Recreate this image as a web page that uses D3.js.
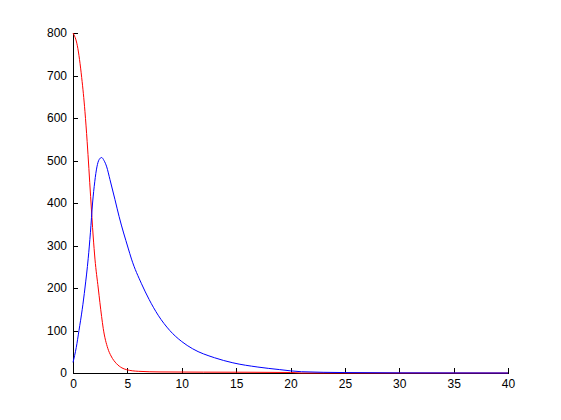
<!DOCTYPE html>
<html>
<head>
<meta charset="utf-8">
<script src="https://cdn.jsdelivr.net/npm/d3@7"></script>
<style>
  body { margin: 0; background: #fff; }
  .axis text { font-family: "Liberation Sans", Arial, sans-serif; font-size: 12px; fill: #000; }
  .axis path, .axis line { stroke: #000; shape-rendering: crispEdges; }
</style>
</head>
<body>
<svg class="canvas"></svg>
<script>
// red series
var redT = [0, 0.4, 0.8, 1.1, 1.3, 1.62, 1.86, 2.02, 2.32, 2.63, 2.78, 3.2, 3.5, 4.0, 4.5, 4.9, 6, 8, 12, 16, 20, 21, 40];
var redV = [800, 770, 695, 615, 545, 415, 320, 268, 200, 133, 105, 58, 40, 22, 12, 8, 4, 2.5, 2, 1.8, 1.2, 0, 0];

// blue series
var blueT = [0, 0.3, 0.55, 0.85, 1.1, 1.4, 1.6, 1.8, 2.0, 2.2, 2.4, 2.63, 2.85, 3.1, 3.4, 3.86, 4.24, 5.07, 5.38, 6.3, 7.0, 7.83, 8.9, 10, 11, 13, 14.7, 17, 19, 21, 25, 30, 40];
var blueV = [25, 60, 100, 150, 200, 270, 330, 400, 450, 485, 502, 507, 500, 485, 455, 408, 368, 294, 268, 210, 173, 136, 100, 74, 57, 36, 24, 14, 8, 3, 1, 0.3, 0];

var xTicks = [0, 5, 10, 15, 20, 25, 30, 35, 40];
var yTicks = [0, 100, 200, 300, 400, 500, 600, 700, 800];

function display() {
  var width = 435;
  var height = 340;
  var left = 73;
  var top = 33;

  var x = d3.scaleLinear().domain([0, 40]).range([0, width]);
  var y = d3.scaleLinear().domain([0, 800]).range([height, 0]);

  var canvas = d3.select(".canvas")
    .attr("width", 561)
    .attr("height", 420)
    .append("g")
    .attr("transform", "translate(" + left + "," + top + ")");

  canvas.append("g")
    .attr("class", "y axis")
    .call(d3.axisLeft(y).tickValues(yTicks).tickSizeInner(-5).tickSizeOuter(0).tickPadding(6));

  canvas.append("g")
    .attr("class", "x axis")
    .attr("transform", "translate(0," + height + ")")
    .call(d3.axisBottom(x).tickValues(xTicks).tickSizeInner(-5).tickSizeOuter(0).tickPadding(6));

  var line = d3.line()
    .x(function(d) { return x(d[0]); })
    .y(function(d) { return y(d[1]); })
    .curve(d3.curveMonotoneX);

  canvas.append("path")
    .datum(d3.zip(redT, redV))
    .attr("fill", "none")
    .attr("stroke", "#ff0000")
    .attr("stroke-width", 1)
    .attr("d", line);

  canvas.append("path")
    .datum(d3.zip(blueT, blueV))
    .attr("fill", "none")
    .attr("stroke", "#0000ff")
    .attr("stroke-width", 1)
    .attr("d", line);
}

display();
</script>
</body>
</html>
